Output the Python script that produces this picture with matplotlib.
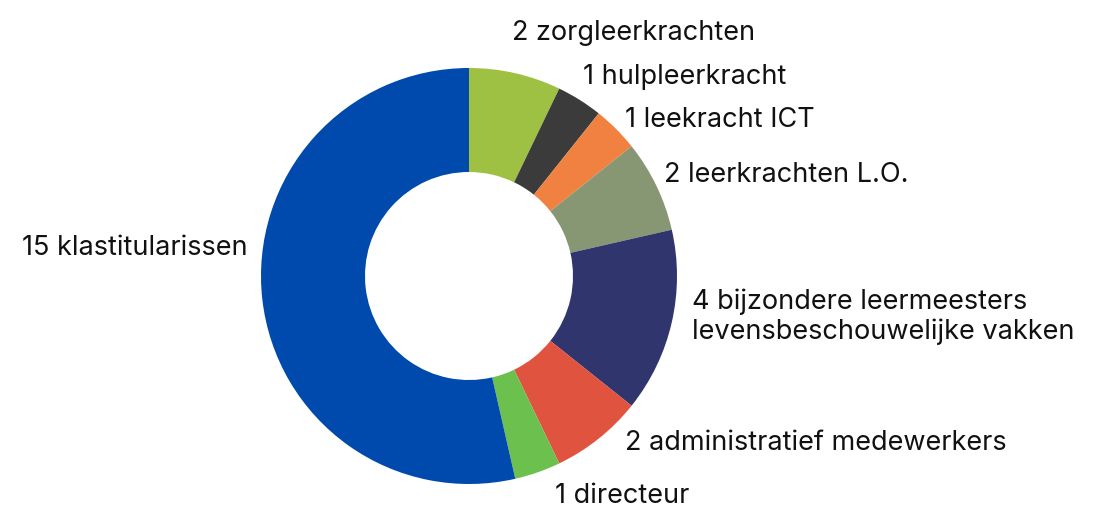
import matplotlib
matplotlib.use("Agg")
import matplotlib.pyplot as plt

labels = ["2 zorgleerkrachten", "1 hulpleerkracht", "1 leekracht ICT",
          "2 leerkrachten L.O.",
          "4 bijzondere leermeesters\nlevensbeschouwelijke vakken",
          "2 administratief medewerkers", "1 directeur", "15 klastitularissen"]
values = [2, 1, 1, 2, 4, 2, 1, 15]
colors = ["#9EC043", "#3B3B3B", "#F08140", "#879774", "#30356D",
          "#E0533E", "#6BC04E", "#004AAD"]
# label nudges in pixels (dx, dy; y upward)
nudges = [(-8, 20), (-8, 5), (-6, -6), (-11, 2), (0, 10), (13, 12), (10, -4), (6, 54)]

W, H = 1093, 508
fig = plt.figure(figsize=(W / 100, H / 100), dpi=100)
cx, cy, R = 469, 232, 208
ax = fig.add_axes([(cx - R) / W, (cy - R) / H, 2 * R / W, 2 * R / H])
wedges, texts = ax.pie(values, colors=colors, startangle=90, counterclock=False,
                       radius=1.0, labels=labels, labeldistance=1.1,
                       wedgeprops=dict(width=0.5, linewidth=0),
                       textprops=dict(fontsize=19.5, family="Inter", color="#111111",
                                      linespacing=1.2))
for t, (dx, dy) in zip(texts, nudges):
    x, y = t.get_position()
    t.set_position((x + dx / R, y + dy / R))
ax.set_xlim(-1, 1)
ax.set_ylim(-1, 1)
ax.set_aspect("equal")
ax.axis("off")
fig.savefig("out.png", dpi=100)
